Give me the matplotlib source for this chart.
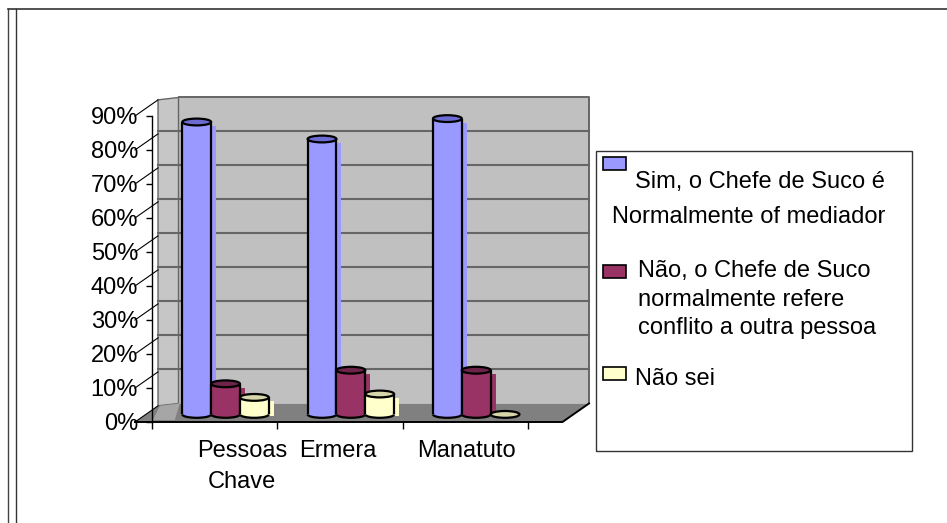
import matplotlib
matplotlib.use("Agg")
import matplotlib.pyplot as plt
from matplotlib.patches import Rectangle, Ellipse, Arc, Polygon
from matplotlib.lines import Line2D
from matplotlib.ticker import PercentFormatter

plt.rcParams['font.family'] = ['Liberation Sans', 'DejaVu Sans']

# ------------------------------------------------------------
# data
# ------------------------------------------------------------
categories = ["Pessoas\nChave", "Ermera", "Manatuto"]
sim_values = [86, 81, 87]
nao_values = [9, 13, 13]
nao_sei_values = [5, 6, 0]
series_labels = [
    "Sim, o Chefe de Suco é\nNormalmente of mediador",
    "Não, o Chefe de Suco\nnormalmente refere\nconflito a outra pessoa",
    "Não sei",
]
y_ticks = list(range(0, 100, 10))

# ------------------------------------------------------------
# style / layout
# ------------------------------------------------------------
W, H = 947, 523
FS = 17
body_colors = ["#9999FF", "#993366", "#FFFFCC"]
top_colors = ["#6B6BD2", "#6E2449", "#D6D6AA"]
WALL = "#C0C0C0"
GRID = "#666666"
FLOOR = "#808080"
LW = 1.6

DX, DY = 0.2115, 5.45          # full depth offset of the box (data units)
BX, BY = 0.41 * DX, 0.41 * DY  # depth of the bar row
FLOOR_X0, FLOOR_X1 = -0.636, 2.775
WALL_X0 = FLOOR_X0 + 0.87 * DX
BAR_W = 0.23
ELL_H = 2.0
STRIP_W = 0.04

fig = plt.figure(figsize=(W / 100, H / 100), dpi=100)
ax = fig.add_axes([152 / W, 1 - 422 / H, 376 / W, 306 / H])
ax.set_xlim(-0.5, 2.5)
ax.set_ylim(0, 90)
ax.patch.set_visible(False)
for s in ["top", "right", "bottom"]:
    ax.spines[s].set_visible(False)
ax.spines["left"].set_linewidth(1.0)

ax.set_yticks(y_ticks)
ax.yaxis.set_major_formatter(PercentFormatter(decimals=0))
ax.tick_params(axis="y", direction="out", length=4, width=1, pad=6, labelsize=FS)
ax.set_xticks([-0.5, 0.5, 1.5, 2.5])
ax.set_xticklabels([])
ax.tick_params(axis="x", direction="out", length=5, width=1)

# ---- back wall (with its thickness on the left) ----
right_x = FLOOR_X1 + DX
ax.add_patch(Rectangle((-0.5 + DX, DY), right_x - (-0.5 + DX), 90,
                       facecolor=WALL, edgecolor="none", zorder=0.5, clip_on=False))
ax.add_patch(Polygon([(WALL_X0, 0.87 * DY), (-0.5 + DX, DY), (-0.5 + DX, 90 + DY),
                      (WALL_X0, 90 + 0.87 * DY)],
                     facecolor="#C6C6C6", edgecolor=GRID, lw=1.0, zorder=0.6, clip_on=False))
ax.plot([-0.5 + DX, right_x, right_x], [90 + DY, 90 + DY, DY], color=GRID, lw=1.4,
        zorder=0.7, clip_on=False)
for t in y_ticks[1:-1]:
    ax.plot([WALL_X0, right_x], [t + DY, t + DY], color=GRID, lw=1.5, zorder=0.7,
            clip_on=False)

# ---- floor ----
ax.add_patch(Polygon([(FLOOR_X0, 0), (FLOOR_X1, 0), (FLOOR_X1 + DX, DY),
                      (-0.5 + DX, DY), (WALL_X0, 0.87 * DY)],
                     facecolor=FLOOR, edgecolor="none", zorder=0.8, clip_on=False))
ax.add_patch(Polygon([(-0.492, 0.6), (WALL_X0 + 0.015, 0.87 * DY), (-0.5 + DX + 0.01, DY),
                      (-0.5 + DX - 0.03, 0.6)],
                     facecolor="#A6A6A6", edgecolor="none", zorder=0.85, clip_on=False))
ax.plot([FLOOR_X0, FLOOR_X1, FLOOR_X1 + DX], [0, 0, DY], color="black", lw=1.4,
        zorder=0.9, clip_on=False)

# leader lines from the tick labels to the wall
for t in y_ticks:
    ax.plot([FLOOR_X0, WALL_X0], [t, t + 0.87 * DY], color="black", lw=0.8,
            zorder=0.9, clip_on=False)


# ------------------------------------------------------------
# cylinders
# ------------------------------------------------------------
def cylinder(cx, v, color, top_color, z):
    hw = BAR_W / 2
    yb, yt = BY, BY + v
    if v > 0:
        ax.add_patch(Rectangle((cx + hw, yb - 0.6), STRIP_W, max(v - 0.6, 0),
                               facecolor=color, edgecolor="none", zorder=z, clip_on=False))
        ax.add_patch(Ellipse((cx, yb), 2 * hw, ELL_H, facecolor=color, edgecolor="none",
                             zorder=z + 0.1, clip_on=False))
        ax.add_patch(Rectangle((cx - hw, yb), 2 * hw, v, facecolor=color,
                               edgecolor="none", zorder=z + 0.1, clip_on=False))
        ax.add_patch(Arc((cx, yb), 2 * hw, ELL_H, theta1=180, theta2=360,
                         color="black", lw=LW, zorder=z + 0.2, clip_on=False))
        for sx in (cx - hw, cx + hw):
            ax.plot([sx, sx], [yb, yt], color="black", lw=LW, zorder=z + 0.2,
                    clip_on=False, solid_capstyle="butt")
    ax.add_patch(Ellipse((cx, yt), 2 * hw, ELL_H, facecolor=top_color,
                         edgecolor="black", lw=LW, zorder=z + 0.3, clip_on=False))


all_series = [sim_values, nao_values, nao_sei_values]
for j, vals in enumerate(all_series):
    for i, v in enumerate(vals):
        cx = i + (j - 1) * BAR_W + BX
        cylinder(cx, v, body_colors[j], top_colors[j], 3 + j)

# category labels
label_shift = [0.22, -0.015, 0.005]
for i, cat in enumerate(categories):
    for k, line in enumerate(cat.split("\n")):
        ax.text(i + label_shift[i], -10.2 - 9.2 * k, line, ha="center", va="baseline",
                fontsize=FS, clip_on=False)

# ------------------------------------------------------------
# legend (figure pixel layout)
# ------------------------------------------------------------
def fx(px):
    return px / W


def fy(py):
    return 1 - py / H


fig.add_artist(Rectangle((fx(596), fy(451)), fx(912) - fx(596), fy(151) - fy(451),
                         transform=fig.transFigure, facecolor="white",
                         edgecolor="#333333", lw=1.0))
swatch_y = [157, 265, 367]
text_layout = [(885, "right", 188, 34.7), (638, "left", 277, 28.7), (635, "left", 385, 0)]
for j, lab in enumerate(series_labels):
    fig.add_artist(Rectangle((fx(603), fy(swatch_y[j] + 13)), fx(626) - fx(603), 13 / H,
                             transform=fig.transFigure, facecolor=body_colors[j],
                             edgecolor="black", lw=1.2))
    x0, ha, base, step = text_layout[j]
    for k, line in enumerate(lab.split("\n")):
        fig.text(fx(x0), fy(base + step * k), line, ha=ha, va="baseline", fontsize=FS)

# page frame
fig.add_artist(Line2D([fx(8), fx(8)], [fy(8.5), 0], color="#444444", lw=1.0,
                      transform=fig.transFigure))
fig.add_artist(Line2D([fx(16), fx(16)], [fy(8.5), 0], color="#333333", lw=1.0,
                      transform=fig.transFigure))
fig.add_artist(Line2D([fx(8), 1], [fy(8.5), fy(8.5)], color="#333333", lw=1.2,
                      transform=fig.transFigure))

fig.savefig("out.png", dpi=100)
